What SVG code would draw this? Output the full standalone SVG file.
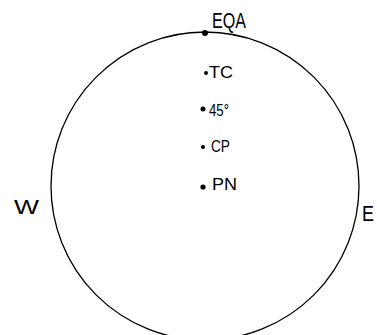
<svg xmlns="http://www.w3.org/2000/svg" width="377" height="335" viewBox="0 0 377 335">
<style>
.t{font-family:"Liberation Sans",Arial,sans-serif;fill:#000}
.d{fill:#000}
</style>
<rect width="377" height="335" fill="#fff"/>
<g id="connectors">
<circle id="circle" cx="205" cy="186" r="154" fill="none" stroke="#000" stroke-width="1.3"/>
</g>
<g id="EQA"><circle class="d" cx="205" cy="33" r="3"/><text class="t" x="212" y="28" font-size="22" textLength="34" lengthAdjust="spacingAndGlyphs">EQA</text></g>
<g id="TC"><circle class="d" cx="206" cy="73" r="2"/><text class="t" x="209" y="78" font-size="17" textLength="24" lengthAdjust="spacingAndGlyphs">TC</text></g>
<g id="deg45"><circle class="d" cx="203" cy="109" r="2.5"/><text class="t" x="209" y="116" font-size="17" textLength="20" lengthAdjust="spacingAndGlyphs">45°</text></g>
<g id="CP"><circle class="d" cx="203" cy="147" r="2"/><text class="t" x="211" y="152" font-size="16" textLength="19" lengthAdjust="spacingAndGlyphs">CP</text></g>
<g id="PN"><circle class="d" cx="203" cy="187" r="2.6"/><text class="t" x="212" y="190" font-size="16" textLength="25" lengthAdjust="spacingAndGlyphs">PN</text></g>
<g id="W"><text class="t" x="14" y="214" font-size="20" textLength="25" lengthAdjust="spacingAndGlyphs">W</text></g>
<g id="E"><text class="t" x="362" y="221" font-size="22" textLength="12" lengthAdjust="spacingAndGlyphs">E</text></g>
</svg>
